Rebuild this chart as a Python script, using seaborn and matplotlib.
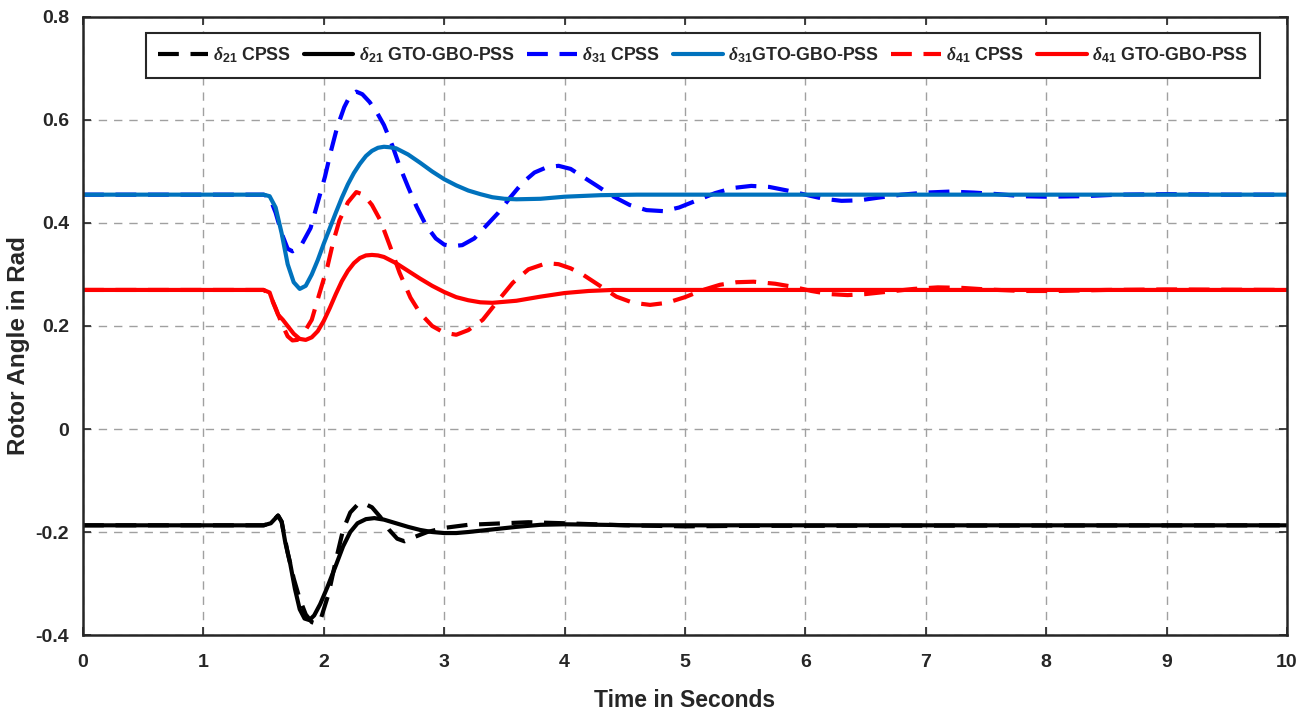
import matplotlib
matplotlib.use("Agg")
import matplotlib.pyplot as plt
import seaborn as sns
import pandas as pd

# ---------------- data ----------------
t21_cpss = [0, 1.5, 1.56, 1.62, 1.65, 1.70, 1.75, 1.80, 1.85, 1.90, 1.94, 1.98, 2.04, 2.10, 2.16,
            2.22, 2.28, 2.33, 2.40, 2.47, 2.54, 2.61, 2.67, 2.75, 2.86, 3.0, 3.2, 3.4, 3.7, 4.0,
            4.5, 5.0, 5.5, 10]
v21_cpss = [-0.187, -0.187, -0.183, -0.168, -0.18, -0.24, -0.29, -0.33, -0.36, -0.375, -0.378,
            -0.365, -0.32, -0.255, -0.196, -0.162, -0.147, -0.144, -0.152, -0.171, -0.195, -0.213,
            -0.218, -0.21, -0.20, -0.192, -0.186, -0.184, -0.181, -0.183, -0.187, -0.189, -0.188,
            -0.187]

t21_gto = [0, 1.5, 1.56, 1.62, 1.65, 1.68, 1.72, 1.76, 1.80, 1.84, 1.88, 1.92, 1.97, 2.03, 2.10,
           2.16, 2.22, 2.28, 2.35, 2.42, 2.5, 2.6, 2.7, 2.8, 2.9, 3.0, 3.1, 3.2, 3.4, 3.6, 3.8,
           4.0, 4.3, 4.6, 10]
v21_gto = [-0.187, -0.187, -0.183, -0.168, -0.18, -0.22, -0.26, -0.31, -0.35, -0.368, -0.371,
           -0.362, -0.34, -0.307, -0.265, -0.228, -0.20, -0.183, -0.175, -0.173, -0.176, -0.183,
           -0.19, -0.196, -0.20, -0.202, -0.202, -0.20, -0.195, -0.19, -0.186, -0.185, -0.186,
           -0.187, -0.187]

t31_cpss = [0, 1.5, 1.55, 1.6, 1.65, 1.70, 1.74, 1.78, 1.82, 1.89, 1.95, 2.01, 2.06, 2.11, 2.17,
            2.22, 2.27, 2.32, 2.38, 2.44, 2.50, 2.57, 2.63, 2.70, 2.77, 2.85, 2.93, 3.00, 3.07,
            3.15, 3.25, 3.35, 3.45, 3.55, 3.65, 3.75, 3.85, 3.95, 4.05, 4.15, 4.27, 4.4, 4.54,
            4.68, 4.82, 4.95, 5.1, 5.25, 5.4, 5.55, 5.7, 5.85, 6.0, 6.15, 6.3, 6.45, 6.6, 6.8,
            7.0, 7.2, 7.4, 7.6, 7.8, 8.0, 8.3, 8.6, 9.0, 9.5, 10]
v31_cpss = [0.455, 0.455, 0.45, 0.42, 0.38, 0.35, 0.345, 0.35, 0.36, 0.39, 0.44, 0.49, 0.54,
            0.585, 0.625, 0.648, 0.655, 0.65, 0.635, 0.615, 0.59, 0.55, 0.51, 0.47, 0.432, 0.395,
            0.37, 0.358, 0.355, 0.357, 0.37, 0.395, 0.42, 0.45, 0.478, 0.498, 0.508, 0.511, 0.505,
            0.49, 0.472, 0.452, 0.435, 0.425, 0.423, 0.43, 0.444, 0.458, 0.468, 0.472, 0.47,
            0.463, 0.455, 0.447, 0.443, 0.444, 0.449, 0.455, 0.459, 0.461, 0.459, 0.456, 0.452,
            0.451, 0.452, 0.455, 0.456, 0.455, 0.455]

t31_gto = [0, 1.5, 1.55, 1.6, 1.65, 1.70, 1.75, 1.80, 1.85, 1.90, 1.95, 2.0, 2.05, 2.1, 2.15,
           2.2, 2.25, 2.3, 2.35, 2.4, 2.45, 2.5, 2.55, 2.6, 2.7, 2.8, 2.9, 3.0, 3.1, 3.2, 3.3,
           3.4, 3.5, 3.6, 3.8, 4.0, 4.3, 4.6, 10]
v31_gto = [0.455, 0.455, 0.452, 0.43, 0.38, 0.32, 0.285, 0.272, 0.278, 0.30, 0.328, 0.36, 0.39,
           0.42, 0.449, 0.475, 0.497, 0.515, 0.53, 0.54, 0.546, 0.548, 0.547, 0.545, 0.533,
           0.517, 0.50, 0.485, 0.473, 0.463, 0.456, 0.45, 0.447, 0.446, 0.447, 0.451, 0.454,
           0.455, 0.455]

t41_cpss = [0, 1.5, 1.55, 1.6, 1.65, 1.70, 1.74, 1.78, 1.83, 1.90, 1.96, 2.03, 2.08, 2.13, 2.2,
            2.27, 2.33, 2.40, 2.47, 2.55, 2.63, 2.72, 2.80, 2.9, 3.0, 3.1, 3.2, 3.32, 3.45, 3.57,
            3.7, 3.85, 3.95, 4.05, 4.15, 4.3, 4.43, 4.57, 4.71, 4.85, 5.0, 5.15, 5.29, 5.43, 5.57,
            5.75, 5.9, 6.05, 6.2, 6.35, 6.5, 6.7, 6.9, 7.1, 7.3, 7.5, 7.8, 8.1, 8.5, 9.0, 10]
v41_cpss = [0.27, 0.27, 0.262, 0.235, 0.205, 0.18, 0.172, 0.173, 0.185, 0.212, 0.26, 0.315,
            0.365, 0.405, 0.44, 0.46, 0.455, 0.435, 0.405, 0.355, 0.303, 0.255, 0.225, 0.20,
            0.187, 0.183, 0.192, 0.212, 0.25, 0.284, 0.31, 0.322, 0.32, 0.312, 0.30, 0.277,
            0.257, 0.245, 0.241, 0.245, 0.256, 0.27, 0.28, 0.285, 0.286, 0.282, 0.276, 0.268,
            0.262, 0.26, 0.262, 0.267, 0.272, 0.275, 0.274, 0.271, 0.268, 0.268, 0.27, 0.271, 0.27]

t41_gto = [0, 1.5, 1.55, 1.58, 1.62, 1.66, 1.70, 1.75, 1.80, 1.85, 1.90, 1.95, 2.0, 2.05, 2.1,
           2.15, 2.2, 2.25, 2.3, 2.35, 2.4, 2.45, 2.5, 2.6, 2.7, 2.8, 2.9, 3.0, 3.1, 3.2, 3.3,
           3.4, 3.6, 3.8, 4.0, 4.2, 4.4, 10]
v41_gto = [0.27, 0.27, 0.265, 0.245, 0.222, 0.212, 0.20, 0.185, 0.175, 0.173, 0.178, 0.19,
           0.21, 0.235, 0.262, 0.287, 0.307, 0.322, 0.332, 0.337, 0.338, 0.337, 0.334, 0.322,
           0.307, 0.292, 0.278, 0.266, 0.256, 0.25, 0.246, 0.245, 0.249, 0.257, 0.264, 0.268,
           0.27, 0.27]

labels = [r"$\delta_{21}$ CPSS", r"$\delta_{21}$ GTO-GBO-PSS",
          r"$\delta_{31}$ CPSS", r"$\delta_{31}$GTO-GBO-PSS",
          r"$\delta_{41}$ CPSS", r"$\delta_{41}$ GTO-GBO-PSS"]
x_ticks = [0, 1, 2, 3, 4, 5, 6, 7, 8, 9, 10]
x_ticklabels = ["0", "1", "2", "3", "4", "5", "6", "7", "8", "9", "10"]
y_ticks = [-0.4, -0.2, 0, 0.2, 0.4, 0.6, 0.8]
y_ticklabels = ["-0.4", "-0.2", "0", "0.2", "0.4", "0.6", "0.8"]

# ---------------- style ----------------
sns.set_style("ticks")
plt.rcParams["font.family"] = ["Liberation Sans", "DejaVu Sans"]
plt.rcParams["font.weight"] = "bold"
plt.rcParams["mathtext.fontset"] = "custom"
plt.rcParams["mathtext.it"] = "Liberation Serif:italic"
plt.rcParams["mathtext.rm"] = "Liberation Sans:bold"
plt.rcParams["mathtext.bf"] = "Liberation Sans:bold"

fig = plt.figure(figsize=(13.11, 7.16), dpi=100)
ax = fig.add_axes([0.0633, 0.1131, 0.9184, 0.8632])

dash = (0, (5.0, 2.8))
series = [
    (t21_cpss, v21_cpss, "black", dash),
    (t21_gto, v21_gto, "black", "-"),
    (t31_cpss, v31_cpss, "#0000FF", dash),
    (t31_gto, v31_gto, "#0072BD", "-"),
    (t41_cpss, v41_cpss, "#FF0000", dash),
    (t41_gto, v41_gto, "#FF0000", "-"),
]
for (tt, vv, col, ls), lab in zip(series, labels):
    df = pd.DataFrame({"t": tt, "v": vv})
    sns.lineplot(data=df, x="t", y="v", ax=ax, color=col, linestyle=ls,
                 linewidth=3.0, label=lab, sort=False, estimator=None)

ax.set_xlim(0, 10)
ax.set_ylim(-0.4, 0.8)
ax.set_xticks(x_ticks)
ax.set_xticklabels(x_ticklabels)
ax.set_yticks(y_ticks)
ax.set_yticklabels(y_ticklabels)
ax.tick_params(direction="in", top=True, right=True, length=6, width=1.2,
               labelsize=14, colors="#262626")
ax.tick_params(axis="x", pad=14)
ax.tick_params(axis="y", pad=10)
for lab in ax.get_xticklabels() + ax.get_yticklabels():
    lab.set_fontweight("bold")
for sp in ax.spines.values():
    sp.set_visible(True)
    sp.set_linewidth(1.8)
    sp.set_color("#262626")

ax.grid(True, color="#a0a0a0", linestyle=(0, (6, 5)), linewidth=1.0)
ax.set_axisbelow(True)

ax.set_xlabel("Time in Seconds", fontsize=16.5, fontweight="bold", color="#262626")
ax.xaxis.set_label_coords(0.5, -0.087)
ax.set_ylabel("Rotor Angle in Rad", fontsize=17.5, fontweight="bold", color="#262626")
ax.yaxis.set_label_coords(-0.044, 0.468)

leg = ax.legend(loc="upper center", bbox_to_anchor=(0.515, 0.974), ncol=6,
                frameon=True, fancybox=False, edgecolor="#262626", framealpha=1,
                handlelength=2.8, handletextpad=0.3, columnspacing=0.7,
                borderpad=0.7, borderaxespad=0.0, prop={"weight": "bold", "size": 12.8})
leg.get_frame().set_linewidth(1.5)

fig.savefig("out.png", dpi=100)
